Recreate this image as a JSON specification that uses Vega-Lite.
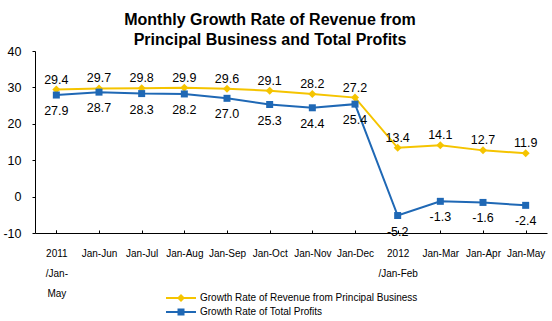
{
  "$schema": "https://vega.github.io/schema/vega-lite/v6.json",
  "autosize": {"type": "none"},
  "padding": {"left": 35, "top": 51, "right": 5, "bottom": 88},
  "width": 512,
  "height": 182,
  "background": "white",
  "title": {
    "text": ["Monthly Growth Rate of Revenue from", "Principal Business and Total Profits"],
    "font": "Liberation Sans",
    "fontSize": 16,
    "fontWeight": "bold",
    "color": "#000000",
    "lineHeight": 20.5,
    "anchor": "middle",
    "frame": "group",
    "dx": -21,
    "baseline": "alphabetic",
    "offset": -16
  },
  "config": {
    "view": {"stroke": null},
    "locale": {"number": {"decimal": ".", "thousands": ",", "grouping": [3], "currency": ["$", ""], "minus": "-"}},
    "axis": {"grid": false, "domainColor": "#000000", "tickColor": "#000000", "labelColor": "#000000"}
  },
  "data": {
    "values": [
      {"period": "2011|/Jan-|May", "series": "Growth Rate of Revenue from  Principal Business", "value": 29.4},
      {"period": "Jan-Jun", "series": "Growth Rate of Revenue from  Principal Business", "value": 29.7},
      {"period": "Jan-Jul", "series": "Growth Rate of Revenue from  Principal Business", "value": 29.8},
      {"period": "Jan-Aug", "series": "Growth Rate of Revenue from  Principal Business", "value": 29.9},
      {"period": "Jan-Sep", "series": "Growth Rate of Revenue from  Principal Business", "value": 29.6},
      {"period": "Jan-Oct", "series": "Growth Rate of Revenue from  Principal Business", "value": 29.1},
      {"period": "Jan-Nov", "series": "Growth Rate of Revenue from  Principal Business", "value": 28.2},
      {"period": "Jan-Dec", "series": "Growth Rate of Revenue from  Principal Business", "value": 27.2},
      {"period": "2012|/Jan-Feb", "series": "Growth Rate of Revenue from  Principal Business", "value": 13.4},
      {"period": "Jan-Mar", "series": "Growth Rate of Revenue from  Principal Business", "value": 14.1},
      {"period": "Jan-Apr", "series": "Growth Rate of Revenue from  Principal Business", "value": 12.7},
      {"period": "Jan-May", "series": "Growth Rate of Revenue from  Principal Business", "value": 11.9},
      {"period": "2011|/Jan-|May", "series": "Growth Rate of Total Profits", "value": 27.9},
      {"period": "Jan-Jun", "series": "Growth Rate of Total Profits", "value": 28.7},
      {"period": "Jan-Jul", "series": "Growth Rate of Total Profits", "value": 28.3},
      {"period": "Jan-Aug", "series": "Growth Rate of Total Profits", "value": 28.2},
      {"period": "Jan-Sep", "series": "Growth Rate of Total Profits", "value": 27.0},
      {"period": "Jan-Oct", "series": "Growth Rate of Total Profits", "value": 25.3},
      {"period": "Jan-Nov", "series": "Growth Rate of Total Profits", "value": 24.4},
      {"period": "Jan-Dec", "series": "Growth Rate of Total Profits", "value": 25.4},
      {"period": "2012|/Jan-Feb", "series": "Growth Rate of Total Profits", "value": -5.2},
      {"period": "Jan-Mar", "series": "Growth Rate of Total Profits", "value": -1.3},
      {"period": "Jan-Apr", "series": "Growth Rate of Total Profits", "value": -1.6},
      {"period": "Jan-May", "series": "Growth Rate of Total Profits", "value": -2.4}
    ]
  },
  "encoding": {
    "x": {
      "field": "period",
      "type": "nominal",
      "sort": null,
      "scale": {"paddingInner": 0, "paddingOuter": 0},
      "axis": {
        "title": null,
        "labelAngle": 0,
        "labelExpr": "split(datum.label, '|')",
        "labelFont": "Liberation Sans",
        "labelFontSize": 10,
        "labelLineHeight": 20,
        "labelBaseline": "top",
        "labelPadding": 18,
        "tickSize": -3,
        "bandPosition": 1,
        "tickExtra": true,
        "domainWidth": 1,
        "labelOverlap": false
      }
    },
    "y": {
      "field": "value",
      "type": "quantitative",
      "scale": {"domain": [-10, 40], "nice": false, "zero": false},
      "axis": {
        "title": null,
        "values": [-10, 0, 10, 20, 30, 40],
        "labelFont": "Liberation Sans",
        "labelFontSize": 12.5,
        "tickSize": 3,
        "labelPadding": 11
      }
    },
    "color": {
      "field": "series",
      "type": "nominal",
      "scale": {
        "domain": ["Growth Rate of Revenue from  Principal Business", "Growth Rate of Total Profits"],
        "range": ["#F5C400", "#1F68B5"]
      },
      "legend": {
        "title": null,
        "orient": "none",
        "legendX": 141,
        "legendY": 242,
        "direction": "vertical",
        "padding": 0,
        "symbolSize": 64,
        "labelOffset": 14,
        "labelFont": "Liberation Sans",
        "labelFontSize": 10,
        "labelColor": "#000000",
        "labelLimit": 400,
        "rowPadding": 4,
        "encode": {
          "symbols": {
            "update": {
              "shape": {"signal": "indexof(datum.value, 'Revenue') >= 0 ? 'M-3.75,-0.25H3.75V0.25H-3.75Z M0,-1L1,0L0,1L-1,0Z' : 'M-3.75,-0.25H3.75V0.25H-3.75Z M-0.875,-0.875H0.875V0.875H-0.875Z'"},
              "fill": {"signal": "indexof(datum.value, 'Revenue') >= 0 ? '#F5C400' : '#1F68B5'"},
              "stroke": {"value": null},
              "strokeWidth": {"value": 0},
              "size": {"value": 64},
              "opacity": {"value": 1}
            }
          }
        }
      }
    }
  },
  "layer": [
    {"mark": {"type": "line", "strokeWidth": 2}},
    {
      "transform": [{"filter": "indexof(datum.series, 'Revenue') >= 0"}],
      "mark": {"type": "point", "shape": "diamond", "filled": true, "size": 64, "opacity": 1}
    },
    {
      "transform": [{"filter": "indexof(datum.series, 'Revenue') < 0"}],
      "mark": {"type": "point", "shape": "square", "filled": true, "size": 49, "opacity": 1}
    },
    {
      "transform": [{"filter": "indexof(datum.series, 'Revenue') >= 0"}],
      "mark": {"type": "text", "font": "Liberation Sans", "fontSize": 12.5, "baseline": "alphabetic", "dy": -6, "color": "#000000"},
      "encoding": {"text": {"field": "value", "type": "quantitative", "format": ".1f"}, "color": {"value": "#000000"}}
    },
    {
      "transform": [{"filter": "indexof(datum.series, 'Revenue') < 0"}],
      "mark": {"type": "text", "font": "Liberation Sans", "fontSize": 12.5, "baseline": "top", "dy": 10, "color": "#000000"},
      "encoding": {"text": {"field": "value", "type": "quantitative", "format": ".1f"}, "color": {"value": "#000000"}}
    }
  ]
}
